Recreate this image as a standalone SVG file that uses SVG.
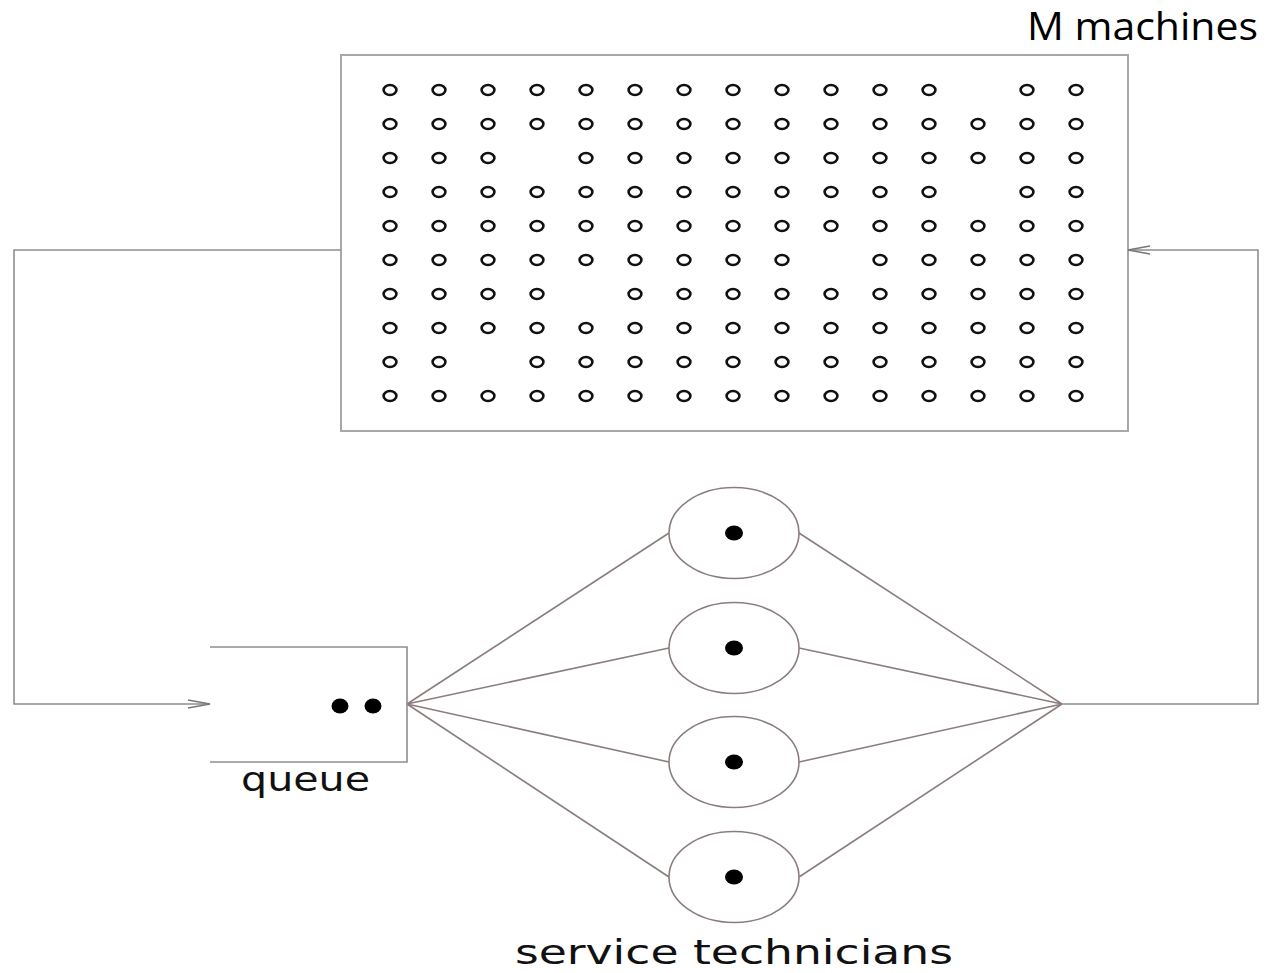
<svg xmlns="http://www.w3.org/2000/svg" width="1267" height="973" viewBox="0 0 1267 973">
  <style>
    .frame { fill: #ffffff; stroke: #a8a8a8; stroke-width: 2; }
    .wire { fill: none; stroke: #8e8e8e; stroke-width: 1.6; }
    .spoke { fill: none; stroke: #8a7e7c; stroke-width: 1.6; }
    .server { fill: #ffffff; stroke: #8a7e7c; stroke-width: 1.6; }
    .job { fill: #000000; }
    .slot { fill: none; stroke: #111111; stroke-width: 2.6; }
    .label { font-family: "DejaVu Sans", Verdana, sans-serif; fill: #111111; }
    .title { font-family: "Open Sans", "Noto Sans", sans-serif; fill: #000000; }
  </style>
  <defs>
    <marker id="arrow" markerWidth="26" markerHeight="12" refX="24" refY="6" orient="auto" markerUnits="userSpaceOnUse">
      <path d="M2,2 L24,6 L2,10" fill="none" stroke="#777777" stroke-width="1.4"/>
    </marker>
    <ellipse id="m" rx="6.4" ry="5" class="slot"/>
  </defs>
  <rect width="1267" height="973" fill="#ffffff"/>

  <text class="title" x="1027" y="40" font-size="38" textLength="231" lengthAdjust="spacingAndGlyphs">M machines</text>

  <!-- machine pool -->
  <g id="machines">
    <rect class="frame" x="341" y="55" width="787" height="376"/>
    <g id="machine-grid">
      <!-- row 1 -->
      <use href="#m" x="390" y="90"/><use href="#m" x="439" y="90"/><use href="#m" x="488" y="90"/><use href="#m" x="537" y="90"/><use href="#m" x="586" y="90"/><use href="#m" x="635" y="90"/><use href="#m" x="684" y="90"/><use href="#m" x="733" y="90"/><use href="#m" x="782" y="90"/><use href="#m" x="831" y="90"/><use href="#m" x="880" y="90"/><use href="#m" x="929" y="90"/><use href="#m" x="1027" y="90"/><use href="#m" x="1076" y="90"/>
      <!-- row 2 -->
      <use href="#m" x="390" y="124"/><use href="#m" x="439" y="124"/><use href="#m" x="488" y="124"/><use href="#m" x="537" y="124"/><use href="#m" x="586" y="124"/><use href="#m" x="635" y="124"/><use href="#m" x="684" y="124"/><use href="#m" x="733" y="124"/><use href="#m" x="782" y="124"/><use href="#m" x="831" y="124"/><use href="#m" x="880" y="124"/><use href="#m" x="929" y="124"/><use href="#m" x="978" y="124"/><use href="#m" x="1027" y="124"/><use href="#m" x="1076" y="124"/>
      <!-- row 3 -->
      <use href="#m" x="390" y="158"/><use href="#m" x="439" y="158"/><use href="#m" x="488" y="158"/><use href="#m" x="586" y="158"/><use href="#m" x="635" y="158"/><use href="#m" x="684" y="158"/><use href="#m" x="733" y="158"/><use href="#m" x="782" y="158"/><use href="#m" x="831" y="158"/><use href="#m" x="880" y="158"/><use href="#m" x="929" y="158"/><use href="#m" x="978" y="158"/><use href="#m" x="1027" y="158"/><use href="#m" x="1076" y="158"/>
      <!-- row 4 -->
      <use href="#m" x="390" y="192"/><use href="#m" x="439" y="192"/><use href="#m" x="488" y="192"/><use href="#m" x="537" y="192"/><use href="#m" x="586" y="192"/><use href="#m" x="635" y="192"/><use href="#m" x="684" y="192"/><use href="#m" x="733" y="192"/><use href="#m" x="782" y="192"/><use href="#m" x="831" y="192"/><use href="#m" x="880" y="192"/><use href="#m" x="929" y="192"/><use href="#m" x="1027" y="192"/><use href="#m" x="1076" y="192"/>
      <!-- row 5 -->
      <use href="#m" x="390" y="226"/><use href="#m" x="439" y="226"/><use href="#m" x="488" y="226"/><use href="#m" x="537" y="226"/><use href="#m" x="586" y="226"/><use href="#m" x="635" y="226"/><use href="#m" x="684" y="226"/><use href="#m" x="733" y="226"/><use href="#m" x="782" y="226"/><use href="#m" x="831" y="226"/><use href="#m" x="880" y="226"/><use href="#m" x="929" y="226"/><use href="#m" x="978" y="226"/><use href="#m" x="1027" y="226"/><use href="#m" x="1076" y="226"/>
      <!-- row 6 -->
      <use href="#m" x="390" y="260"/><use href="#m" x="439" y="260"/><use href="#m" x="488" y="260"/><use href="#m" x="537" y="260"/><use href="#m" x="586" y="260"/><use href="#m" x="635" y="260"/><use href="#m" x="684" y="260"/><use href="#m" x="733" y="260"/><use href="#m" x="782" y="260"/><use href="#m" x="880" y="260"/><use href="#m" x="929" y="260"/><use href="#m" x="978" y="260"/><use href="#m" x="1027" y="260"/><use href="#m" x="1076" y="260"/>
      <!-- row 7 -->
      <use href="#m" x="390" y="294"/><use href="#m" x="439" y="294"/><use href="#m" x="488" y="294"/><use href="#m" x="537" y="294"/><use href="#m" x="635" y="294"/><use href="#m" x="684" y="294"/><use href="#m" x="733" y="294"/><use href="#m" x="782" y="294"/><use href="#m" x="831" y="294"/><use href="#m" x="880" y="294"/><use href="#m" x="929" y="294"/><use href="#m" x="978" y="294"/><use href="#m" x="1027" y="294"/><use href="#m" x="1076" y="294"/>
      <!-- row 8 -->
      <use href="#m" x="390" y="328"/><use href="#m" x="439" y="328"/><use href="#m" x="488" y="328"/><use href="#m" x="537" y="328"/><use href="#m" x="586" y="328"/><use href="#m" x="635" y="328"/><use href="#m" x="684" y="328"/><use href="#m" x="733" y="328"/><use href="#m" x="782" y="328"/><use href="#m" x="831" y="328"/><use href="#m" x="880" y="328"/><use href="#m" x="929" y="328"/><use href="#m" x="978" y="328"/><use href="#m" x="1027" y="328"/><use href="#m" x="1076" y="328"/>
      <!-- row 9 -->
      <use href="#m" x="390" y="362"/><use href="#m" x="439" y="362"/><use href="#m" x="537" y="362"/><use href="#m" x="586" y="362"/><use href="#m" x="635" y="362"/><use href="#m" x="684" y="362"/><use href="#m" x="733" y="362"/><use href="#m" x="782" y="362"/><use href="#m" x="831" y="362"/><use href="#m" x="880" y="362"/><use href="#m" x="929" y="362"/><use href="#m" x="978" y="362"/><use href="#m" x="1027" y="362"/><use href="#m" x="1076" y="362"/>
      <!-- row 10 -->
      <use href="#m" x="390" y="396"/><use href="#m" x="439" y="396"/><use href="#m" x="488" y="396"/><use href="#m" x="537" y="396"/><use href="#m" x="586" y="396"/><use href="#m" x="635" y="396"/><use href="#m" x="684" y="396"/><use href="#m" x="733" y="396"/><use href="#m" x="782" y="396"/><use href="#m" x="831" y="396"/><use href="#m" x="880" y="396"/><use href="#m" x="929" y="396"/><use href="#m" x="978" y="396"/><use href="#m" x="1027" y="396"/><use href="#m" x="1076" y="396"/>
    </g>
  </g>

  <!-- connectors -->
  <g id="connectors">
    <path class="wire" d="M341,250 H14 V704 H210" marker-end="url(#arrow)"/>
    <path class="wire" d="M1062,704 H1258 V250 H1128" marker-end="url(#arrow)"/>
    <path class="spoke" d="M407,704 L669,533 M407,704 L669,648 M407,704 L669,762 M407,704 L669,877"/>
    <path class="spoke" d="M799,533 L1062,704 M799,648 L1062,704 M799,762 L1062,704 M799,877 L1062,704"/>
  </g>

  <!-- waiting line -->
  <g id="queue">
    <path class="wire" d="M210,647 H407 V762 H210"/>
    <ellipse class="job" cx="340" cy="706" rx="8.5" ry="7.5"/>
    <ellipse class="job" cx="373" cy="706" rx="8.5" ry="7.5"/>
    <text class="label" x="241" y="791" font-size="33" textLength="129" lengthAdjust="spacingAndGlyphs">queue</text>
  </g>

  <!-- technicians -->
  <g id="tech-1">
    <ellipse class="server" cx="734" cy="533" rx="65" ry="45.5"/>
    <ellipse class="job" cx="734" cy="533" rx="9" ry="7.5"/>
  </g>
  <g id="tech-2">
    <ellipse class="server" cx="734" cy="648" rx="65" ry="45.5"/>
    <ellipse class="job" cx="734" cy="648" rx="9" ry="7.5"/>
  </g>
  <g id="tech-3">
    <ellipse class="server" cx="734" cy="762" rx="65" ry="45.5"/>
    <ellipse class="job" cx="734" cy="762" rx="9" ry="7.5"/>
  </g>
  <g id="tech-4">
    <ellipse class="server" cx="734" cy="877" rx="65" ry="45.5"/>
    <ellipse class="job" cx="734" cy="877" rx="9" ry="7.5"/>
  </g>
  <text class="label" x="515" y="964" font-size="33" textLength="438" lengthAdjust="spacingAndGlyphs">service technicians</text>
</svg>
